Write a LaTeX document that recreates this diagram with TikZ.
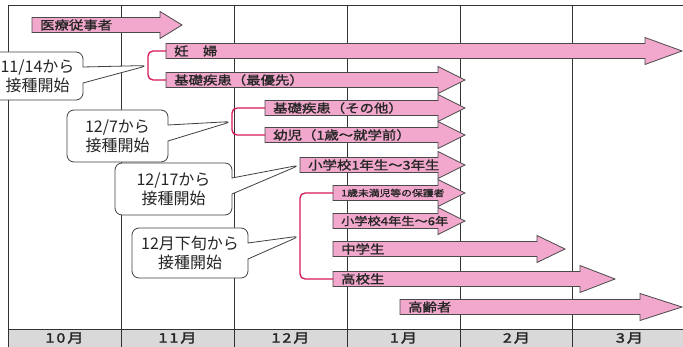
\documentclass[tikz,border=0pt]{standalone}
\usepackage{fontspec}
\setmainfont{Noto Sans CJK JP}
\newfontfamily\barfont[FakeStretch=1.2,FakeBold=1.5]{Noto Sans CJK JP}
\newfontfamily\monthfont[FakeStretch=1.25,FakeBold=2,LetterSpace=15]{Noto Sans CJK JP}
\usetikzlibrary{shapes.callouts}
\definecolor{barpink}{HTML}{F2A8CC}
\definecolor{barline}{HTML}{4A4A4A}
\definecolor{bracketred}{HTML}{D6175A}
\definecolor{monthgrey}{HTML}{D9D9D9}

% block arrow: name, tail x, head base x, tip x, centre y, label
\newcommand{\bararrow}[6]{%
  \draw[bar] (#2,#5-7.5) -- (#3,#5-7.5) -- (#3,#5-13.5) -- (#4,#5)
    -- (#3,#5+13.5) -- (#3,#5+7.5) -- (#2,#5+7.5) -- cycle;
  \node[barlabel] (#1) at (#2,#5) {#6};}

\begin{document}
\begin{tikzpicture}[
  x=1pt,y=-1pt,
  grid/.style={draw=black!80,line width=0.9pt},
  bar/.style={fill=barpink,draw=barline,line width=0.8pt,line join=miter},
  barlabel/.style={anchor=west,inner xsep=8pt,inner ysep=0pt,text=black!85,
                   font=\barfont\fontsize{12}{12}\selectfont},
  bracket/.style={draw=bracketred,line width=1.3pt,rounded corners=5pt},
  note/.style={rectangle callout,draw=black!75,fill=white,line width=0.8pt,
               rounded corners=7pt,align=center,callout pointer width=16pt,
               font=\fontsize{16}{19}\selectfont,text=black!85},
  month/.style={font=\monthfont\fontsize{13}{13}\selectfont,text=black!85}
]
\useasboundingbox (0,0) rectangle (683,347);

% grid and month row
\fill[monthgrey] (8,329) rectangle (683,347);
\foreach \x in {8,121,234,347,460,572}
  \draw[grid] (\x,5) -- (\x,347);
\draw[grid] (8,5) -- (683,5);
\draw[grid] (8,329) -- (683,329);
\foreach \m [count=\i] in {10,11,12,1,2,3}
  \node[month] (month\i) at ({8+113*(\i-0.5)},338) {\m 月};

% target groups
\bararrow{medical}{32}{160}{182}{25}{医療従事者}
\bararrow{pregnant}{166}{645}{682}{51}{妊　婦}
\bararrow{chronic1}{166}{438}{465}{80}{基礎疾患（最優先）}
\bararrow{chronic2}{265}{438}{465}{108}{基礎疾患（その他）}
\bararrow{infant}{265}{438}{465}{135}{幼児（1歳～就学前）}
\bararrow{elem1}{300}{438}{465}{165}{小学校1年生～3年生}
\bararrow{parents}{333}{438}{465}{193}{\fontsize{9}{9}\selectfont 1歳未満児等の保護者}
\bararrow{elem4}{333}{438}{465}{221}{\fontsize{11}{11}\selectfont 小学校4年生～6年}
\bararrow{junior}{333}{537}{565}{249}{中学生}
\bararrow{high}{333}{580}{615}{279}{高校生}
\bararrow{elderly}{400}{640}{682}{307}{高齢者}

% brackets
\draw[bracket] (pregnant.west) -- ++(-18,0) |- coordinate[pos=0.25] (start1) (chronic1.west);
\draw[bracket] (chronic2.west) -- ++(-33,0) |- coordinate[pos=0.25] (start2) (infant.west);
\draw[bracket] (parents.west) -- ++(-33,0) |- coordinate[pos=0.25] (start4) (high.west);

% start dates
\node[note,minimum width=91pt,minimum height=48pt,callout absolute pointer={(start1)}]
  (from1114) at (37.5,76) {11/14から\\接種開始};
\node[note,minimum width=101pt,minimum height=52pt,callout absolute pointer={(start2)}]
  (from1207) at (117.5,136) {12/7から\\接種開始};
\node[note,minimum width=117pt,minimum height=52pt,callout absolute pointer={(elem1.west)}]
  (from1217) at (173.5,189) {12/17から\\接種開始};
\node[note,minimum width=116pt,minimum height=50pt,callout absolute pointer={(start4)}]
  (fromlate) at (190,253) {12月下旬から\\接種開始};
\end{tikzpicture}
\end{document}
